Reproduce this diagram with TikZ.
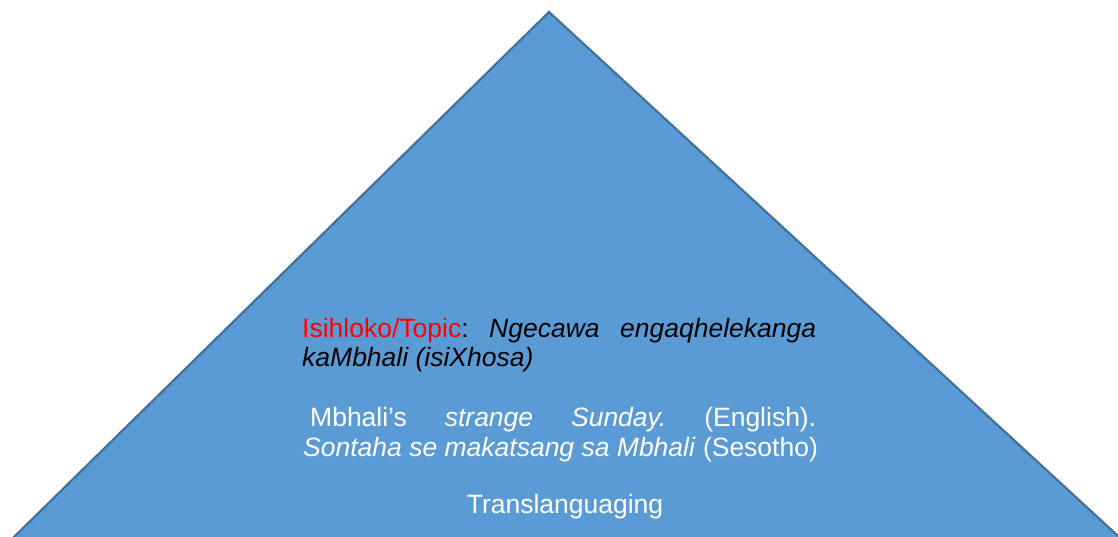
\documentclass[tikz,border=0pt]{standalone}
\usepackage{fontspec}
\setmainfont{Liberation Sans}
\definecolor{fillb}{HTML}{5B9BD5}
\definecolor{edgeb}{HTML}{41719C}
\frenchspacing
\begin{document}
\begin{tikzpicture}[x=1pt,y=-1pt,
  txt/.style={anchor=base west, inner sep=0pt, font=\fontsize{26.5}{30}\selectfont},
  tri/.style={draw=edgeb, fill=fillb, line width=2.2pt, line join=miter}]
\useasboundingbox (0,0) rectangle (1118,536);
\begin{scope}
\clip (0,0) rectangle (1118,536);
\draw[tri] (549,12) -- (4.8,546) -- (1128.9,546) -- cycle;
\end{scope}
\node[txt, text=black] (l1) at (302,337) {\makebox[514pt][s]{\textcolor{red}{Isihloko/Topic}: \textit{Ngecawa} \textit{engaqhelekanga}}};
\node[txt, text=black] (l2) at (302,366) {\textit{kaMbhali (isiXhosa)}};
\node[txt, text=white] (l3) at (310,426) {\makebox[506pt][s]{Mbhali’s \textit{strange} \textit{Sunday.} (English).}};
\node[txt, text=white] (l4) at (303,456) {\textit{Sontaha se makatsang sa Mbhali} (Sesotho)};
\node[txt, text=white, anchor=base] (l5) at (565,513) {Translanguaging};
\end{tikzpicture}
\end{document}
